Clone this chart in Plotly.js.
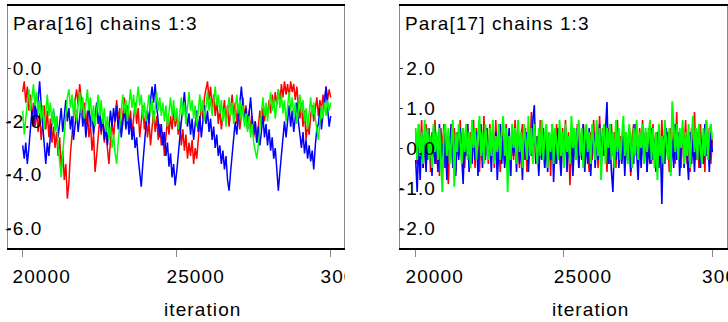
<!DOCTYPE html>
<html><head><meta charset="utf-8">
<script src="https://cdn.plot.ly/plotly-3.0.1.min.js"></script>
<style>html,body{margin:0;padding:0;background:#fff}#chart{width:728px;height:322px}svg text{letter-spacing:1.1px}</style>
</head><body><div id="chart"></div>
<script>
// ---------- data (one value every 50 iterations) ----------
const iterStart = 20000, iterEnd = 30000;

const para16Red = [
  -0.9,-0.5,-1.3,-0.7,-1.6,-1.0,-1.9,-1.3,-2.2,-1.6,  -2.4,-1.7,-2.7,-2.0,-1.4,-2.3,-1.6,-2.6,-1.9,-2.8,
  -2.2,-3.0,-2.4,-3.3,-2.6,-3.8,-3.1,-4.2,-3.6,-4.9,  -4.3,-3.2,-2.5,-1.8,-1.2,-0.8,-1.4,-0.6,-1.1,-1.7,
  -1.3,-2.2,-1.6,-2.6,-2.1,-3.1,-2.5,-3.9,-3.3,-2.6,  -1.9,-2.5,-1.8,-2.8,-2.2,-3.0,-3.6,-2.7,-2.0,-2.6,
  -1.7,-1.2,-2.0,-1.5,-2.4,-1.8,-1.1,-1.9,-1.4,-2.2,  -1.6,-2.5,-1.9,-1.3,-2.1,-1.5,-2.6,-2.0,-1.4,-2.3,
  -1.7,-2.6,-2.0,-2.9,-2.3,-1.6,-2.4,-1.8,-2.7,-2.1,  -2.9,-2.4,-3.3,-2.6,-1.9,-2.5,-1.8,-2.3,-1.6,-2.2,
  -1.7,-2.5,-2.0,-2.9,-2.3,-3.1,-2.5,-3.4,-2.8,-3.3,  -2.7,-3.6,-3.0,-3.4,-2.5,-2.0,-1.4,-1.9,-1.1,-0.8,
  -0.5,-1.2,-0.7,-1.5,-1.0,-1.8,-1.2,-2.1,-1.5,-2.3,  -1.7,-1.2,-2.0,-1.4,-2.2,-1.6,-1.0,-1.8,-1.3,-2.1,
  -1.5,-2.3,-1.7,-1.1,-1.9,-1.4,-2.2,-1.6,-2.4,-1.8,  -2.6,-2.0,-2.8,-2.2,-1.6,-2.1,-1.5,-2.0,-1.4,-1.8,
  -1.2,-1.7,-1.0,-1.5,-0.9,-1.4,-0.8,-1.3,-0.6,-1.1,  -0.5,-1.0,-0.6,-1.1,-0.5,-0.9,-0.6,-1.2,-0.7,-1.4,
  -1.9,-1.3,-2.2,-1.6,-2.7,-2.1,-2.5,-1.8,-1.4,-2.0,  -1.5,-1.1,-1.8,-1.2,-1.6,-1.0,-1.4,-0.7,-1.2,-0.8,
  -1.1];
const para16Blue = [
  -2.9,-3.4,-2.8,-3.6,-3.0,-2.3,-1.6,-2.2,-1.4,-1.9,  -1.0,-0.5,-1.4,-2.2,-3.0,-3.6,-2.8,-3.3,-2.5,-2.0,
  -1.6,-2.3,-1.8,-2.6,-2.0,-1.5,-2.4,-1.7,-1.2,-2.0,  -1.5,-2.3,-1.8,-2.7,-2.1,-1.6,-2.4,-1.9,-1.3,-2.2,
  -1.7,-2.6,-2.0,-1.4,-2.2,-1.6,-2.5,-1.9,-1.3,-2.1,  -1.6,-2.4,-1.8,-2.7,-2.1,-2.9,-2.3,-1.6,-2.2,-1.5,
  -2.0,-1.4,-2.3,-1.8,-2.6,-2.0,-1.5,-2.3,-1.7,-2.5,  -1.9,-2.7,-2.2,-3.0,-2.6,-3.4,-3.9,-4.45,-3.6,-2.8,
  -2.2,-1.6,-2.1,-1.2,-0.7,-1.3,-0.6,-1.4,-2.0,-2.6,  -2.1,-2.9,-2.4,-3.3,-2.8,-3.7,-3.2,-4.1,-3.6,-4.4,
  -3.9,-3.2,-2.6,-2.0,-1.5,-0.9,-1.6,-2.2,-1.7,-2.5,  -1.9,-2.7,-2.1,-1.6,-2.4,-1.8,-2.6,-2.0,-1.4,-2.1,
  -1.6,-2.4,-1.9,-2.7,-2.2,-3.0,-2.5,-3.3,-2.9,-3.6,  -3.1,-3.8,-3.3,-4.2,-4.6,-3.9,-3.2,-2.6,-2.0,-2.5,
  -1.9,-1.3,-0.7,-1.4,-2.0,-1.5,-2.3,-1.7,-1.1,-1.9,  -2.5,-2.0,-2.8,-2.2,-2.9,-2.4,-1.8,-2.6,-2.1,-2.9,
  -2.3,-3.1,-2.6,-3.4,-3.0,-3.8,-4.6,-3.9,-3.2,-2.6,  -2.0,-2.6,-1.9,-1.4,-2.2,-1.6,-2.4,-1.8,-1.3,-2.0,
  -2.5,-3.0,-2.4,-3.2,-2.7,-3.4,-2.9,-3.5,-3.1,-3.8,  -2.9,-2.3,-2.1,-1.5,-2.3,-1.7,-1.2,-0.7,-1.5,-2.2,
  -1.8];
const para16Green = [
  -1.6,-2.5,-1.9,-1.2,-0.8,-1.6,-1.1,-0.6,-1.4,-0.9,  -1.7,-1.2,-2.0,-1.4,-2.3,-1.7,-1.0,-1.8,-1.3,-2.1,
  -1.5,-2.4,-1.8,-2.9,-3.5,-4.1,-3.2,-2.4,-1.6,-1.1,  -0.8,-1.5,-1.0,-1.8,-1.2,-2.0,-1.4,-0.9,-1.7,-1.1,
  -1.9,-1.3,-0.8,-1.6,-1.1,-2.0,-1.4,-2.2,-1.6,-1.0,  -1.8,-1.2,-2.1,-1.5,-2.4,-1.8,-2.7,-2.2,-3.0,-2.5,
  -3.2,-3.6,-2.8,-2.1,-1.5,-1.0,-1.7,-1.2,-2.0,-1.4,  -0.8,-1.5,-1.0,-1.8,-1.3,-0.7,-1.4,-1.0,-1.9,-1.3,
  -2.0,-1.5,-1.0,-1.7,-1.2,-2.1,-1.5,-0.9,-1.6,-1.1,  -1.8,-1.3,-2.0,-1.4,-2.2,-1.6,-1.1,-1.8,-1.2,-2.0,
  -1.5,-2.3,-1.7,-1.1,-1.8,-1.3,-2.1,-1.5,-0.9,-1.6,  -1.2,-1.9,-1.4,-2.2,-1.6,-1.0,-1.7,-1.2,-2.0,-1.5,
  -0.9,-1.6,-1.1,-1.8,-1.3,-0.7,-1.4,-1.0,-1.7,-1.2,  -2.0,-1.5,-2.2,-1.6,-1.1,-1.8,-1.3,-2.1,-1.5,-1.0,
  -1.7,-1.2,-2.0,-1.4,-2.2,-1.7,-2.4,-1.8,-2.6,-2.1,  -2.8,-3.1,-3.4,-2.9,-2.3,-1.7,-1.1,-1.8,-1.3,-2.0,
  -1.4,-0.9,-1.6,-1.1,-1.9,-1.3,-0.8,-1.5,-1.0,-1.7,  -1.2,-2.0,-1.4,-0.9,-1.6,-1.1,-1.8,-1.3,-2.1,-1.5,
  -1.0,-1.7,-1.2,-2.0,-1.5,-2.3,-1.7,-1.1,-1.8,-1.3,  -1.9,-2.4,-2.7,-2.0,-1.4,-1.9,-1.3,-1.8,-1.2,-1.6,
  -1.3];

const para17Red = [
  0.4,-0.4,0.6,-0.2,0.7,-0.5,0.3,0.6,-0.3,0.5,  -0.6,0.4,-0.2,0.7,-0.4,0.3,-0.7,0.5,-0.1,0.6,
  -0.5,0.3,-0.9,0.2,0.6,-0.4,0.5,-0.6,0.4,-0.2,  0.7,-0.3,0.5,-0.5,0.3,0.6,-0.4,0.4,-0.2,0.7,
  -0.5,0.5,0.0,-0.6,0.4,-0.3,0.8,-0.2,0.5,-0.4,  0.6,-0.1,0.4,-0.5,0.7,-0.3,0.3,-0.6,0.5,0.0,
  -0.4,0.6,-0.2,0.4,-0.7,0.5,-0.3,0.7,-0.1,0.4,  -0.5,0.3,0.6,-0.3,0.5,-0.6,0.4,-0.2,0.9,-0.1,
  0.5,-0.4,0.3,-0.6,0.7,-0.2,0.4,-0.5,0.6,-0.3,  0.4,-0.7,0.5,0.0,-0.4,0.6,-0.3,0.3,-0.6,0.5,
  -0.2,0.7,-0.4,0.4,-0.93,0.2,-0.6,0.5,-0.3,0.6,  -0.5,0.3,-0.2,0.6,-0.4,0.5,0.0,-0.6,0.4,-0.3,
  0.7,-0.2,0.4,-0.5,0.8,-0.3,0.5,-0.1,0.3,-0.6,  0.5,-0.4,0.6,-0.2,0.4,-0.5,0.7,-0.3,0.3,-0.1,
  0.6,-0.5,0.4,-0.3,0.5,-0.7,0.3,0.6,-0.2,0.4,  -0.4,0.5,-0.1,0.7,-0.3,0.4,-0.6,0.5,0.0,-0.4,
  0.6,-0.2,0.4,-0.5,0.3,-0.3,0.7,-0.4,0.5,-0.1,  0.4,-0.6,0.5,-0.2,0.6,-0.4,0.9,-0.3,0.3,-0.5,
  0.5,-0.2,0.7,-0.4,0.3,-0.6,0.5,0.0,0.9,-0.3,  0.4,-0.5,0.6,-0.2,0.3,-0.6,0.7,-0.3,0.5,-0.4,
  0.2];
const para17Blue = [
  -0.3,-1.1,0.2,-0.8,0.4,-0.5,0.3,-0.6,0.5,-0.2,  0.3,-0.7,0.5,-0.4,0.2,-0.6,0.6,-0.3,0.1,-0.5,
  0.4,-0.8,0.3,-0.2,0.6,-0.5,0.2,-0.7,0.4,-0.3,  0.5,-0.4,-0.9,0.3,-0.2,0.6,-0.6,0.2,-0.4,0.5,
  -0.3,0.4,-0.7,0.1,0.6,-0.5,0.3,-0.3,0.5,-0.2,  0.2,-0.6,0.5,-0.3,0.4,-0.8,0.1,0.6,-0.4,0.3,
  -0.5,0.2,-0.3,0.5,-0.7,0.4,-0.2,0.3,-0.6,0.6,  -0.4,0.1,-0.8,0.5,-0.3,0.4,-0.6,0.2,-0.2,0.7,
  1.07,-0.4,0.3,-0.7,0.2,-0.3,0.5,-0.5,0.1,-0.6,  0.4,-0.3,0.6,-0.85,0.2,-0.4,0.5,-0.2,-0.7,0.3,
  -0.3,0.5,-0.6,0.2,-0.4,0.4,-0.7,0.1,-0.2,0.5,  -0.5,0.3,-0.3,0.6,-0.6,0.2,-0.4,0.5,-0.7,0.1,
  0.4,-0.5,0.2,-0.3,0.6,-0.6,0.3,-0.2,0.5,1.15,  -0.4,0.3,-0.6,-1.1,0.2,-0.3,0.5,-0.5,0.1,-0.4,
  0.4,-0.7,0.2,-0.3,0.5,-0.6,0.1,-0.4,0.6,-0.2,  -0.8,0.3,-0.5,0.2,-0.3,0.4,-0.6,0.1,-0.4,0.5,
  -0.3,0.2,-0.6,0.4,-0.5,0.1,-1.4,0.3,-0.4,0.5,  -0.2,0.3,-0.6,0.2,-0.5,0.6,-0.3,0.4,-0.7,0.1,
  0.5,-0.5,0.3,-0.2,-0.8,0.4,-0.4,0.2,-0.6,0.3,  -0.3,0.5,-0.5,0.2,-0.4,0.6,-0.2,0.3,-0.6,0.4,
  -0.1];
const para17Green = [
  0.5,-0.3,0.6,-0.2,0.4,-0.4,0.7,0.0,0.5,-0.3,  0.3,-0.5,0.6,-0.1,0.4,-0.3,0.5,-0.2,-1.1,0.4,
  0.6,-0.2,0.5,-0.4,0.3,0.7,-0.97,0.4,-0.1,0.6,  0.2,-0.4,0.5,-0.1,0.6,-0.3,0.4,-0.5,0.7,0.0,
  0.5,-0.3,0.3,0.8,-0.2,0.4,-0.4,0.6,0.1,-0.3,  0.5,-0.2,0.7,-0.4,0.3,-0.1,0.6,-0.3,0.4,0.8,
  -0.2,0.5,-1.1,0.3,-0.3,0.6,0.0,0.5,-0.4,0.7,  -0.1,0.4,-0.5,0.6,0.2,-0.3,0.8,-0.2,0.5,-0.4,
  0.6,0.0,-0.4,0.5,-0.2,0.7,-0.3,0.3,0.6,-0.5,  0.4,-0.1,0.6,-0.4,0.5,0.1,-0.3,0.7,-0.2,0.4,
  -0.5,0.6,-0.1,0.3,-0.4,0.8,0.0,0.5,-0.3,0.4,  0.7,-0.2,0.5,-0.5,0.3,0.6,-0.1,0.4,-0.4,0.6,
  0.1,-0.3,0.7,-0.2,0.5,-0.8,0.3,0.6,-0.4,0.5,  0.0,0.6,-0.3,0.4,-0.5,0.7,-0.1,0.5,-0.3,0.3,
  0.8,-0.2,0.4,-0.4,0.6,0.1,-0.5,0.5,-0.2,0.7,  -0.3,0.4,0.0,0.6,-0.4,0.5,-0.1,0.3,0.7,-0.3,
  0.5,-0.5,0.4,-0.8,0.6,-0.2,0.3,-0.4,0.7,0.1,  -0.3,0.5,-0.7,1.17,0.4,-0.1,0.6,-0.3,0.5,0.0,
  0.7,-0.4,0.4,-0.2,0.6,-0.5,0.3,0.8,-0.1,0.5,  -0.3,0.6,0.0,-0.4,0.5,-0.2,0.7,-0.3,0.4,0.6,
  0.2];

const chainColors = ["#ff0000", "#0000ff", "#00ff00"];
const xTickVals = [20000, 25000, 30000];
const xTickText = ["20000", "25000", "30000"];
const leftYTickVals = [0, -2, -4, -6];
const leftYTickText = ["0.0", "-2.0", "-4.0", "-6.0"];
const rightYTickVals = [2, 1, 0, -1, -2];
const rightYTickText = ["2.0", "1.0", "0.0", "-1.0", "-2.0"];
const panelTitles = ["Para[16] chains 1:3", "Para[17] chains 1:3"];
const xTitle = "iteration";

// ---------- build ----------
const W = 728, H = 322;
const fx = p => p / W;
const fy = p => (H - p) / H;
const FONT = "Liberation Sans, Arial, Helvetica, sans-serif";
const FS = 19;

function iters(arr) {
  const n = arr.length;
  return arr.map((_, i) => iterStart + i * (iterEnd - iterStart) / (n - 1));
}
function trace(vals, color, xa, ya, w) {
  return { type: "scatter", mode: "lines", x: iters(vals), y: vals, xaxis: xa, yaxis: ya,
    line: { color: color, width: w }, hoverinfo: "skip", showlegend: false };
}
function frameTrace(xa, ya) {
  return { type: "scatter", mode: "lines", x: [], y: [], xaxis: xa, yaxis: ya, hoverinfo: "skip", showlegend: false };
}

const traces = [
  trace(para16Red, chainColors[0], "x", "y", 1.5),
  trace(para16Blue, chainColors[1], "x", "y", 1.5),
  trace(para16Green, chainColors[2], "x", "y", 1.5),
  trace(para17Red, chainColors[0], "x2", "y2", 1.6),
  trace(para17Blue, chainColors[1], "x2", "y2", 1.6),
  trace(para17Green, chainColors[2], "x2", "y2", 1.9),
  frameTrace("x", "y3"),
  frameTrace("x2", "y4")
];

const yDom = [fy(248), fy(6)];
const tickFont = { family: FONT, size: FS, color: "#000" };

function xAxis(dom, range, anchor) {
  return { domain: dom, range: range, anchor: anchor, showline: true, linecolor: "#000", linewidth: 2,
    mirror: true, ticks: "outside", ticklen: 7, tickcolor: "#888", tickwidth: 1,
    tickmode: "array", tickvals: xTickVals, ticktext: xTickText, tickfont: tickFont,
    ticklabelshift: 19, ticklabelstandoff: 3, ticklabeloverflow: "allow",
    showgrid: false, zeroline: false, automargin: false, fixedrange: true };
}
function yLabelAxis(range, pos, vals, text) {
  return { domain: yDom, range: range, anchor: "free", position: pos, showline: false, ticks: "",
    tickmode: "array", tickvals: vals, ticktext: text, tickfont: tickFont,
    showgrid: false, zeroline: false, automargin: false, fixedrange: true };
}
function yFrameAxis(range, over, anchor, vals) {
  return { domain: yDom, range: range, overlaying: over, anchor: anchor, side: "left",
    showline: true, linecolor: "#888", linewidth: 1, mirror: true,
    ticks: "inside", ticklen: 3, tickcolor: "#333", tickwidth: 1,
    tickmode: "array", tickvals: vals, showticklabels: false,
    showgrid: false, zeroline: false, automargin: false, fixedrange: true };
}

const leftYRange = [-6.75, 2.325];
const rightYRange = [-2.5, 3.55];

const layout = {
  width: W, height: H, margin: { l: 0, r: 0, t: 0, b: 0 },
  paper_bgcolor: "#fff", plot_bgcolor: "rgba(0,0,0,0)", showlegend: false,
  font: { family: FONT, size: FS, color: "#000" },
  xaxis: xAxis([fx(7.5), fx(344)], [19506.5, 30432], "y"),
  yaxis: yLabelAxis(leftYRange, fx(7.5 + 35), leftYTickVals, leftYTickText),
  yaxis3: yFrameAxis(leftYRange, "y", "x", leftYTickVals),
  xaxis2: xAxis([fx(400), fx(727)], [19470.7, 30496], "y2"),
  yaxis2: yLabelAxis(rightYRange, fx(400 + 36), rightYTickVals, rightYTickText),
  yaxis4: yFrameAxis(rightYRange, "y2", "x2", rightYTickVals),
  shapes: [
    { type: "rect", layer: "above", xref: "paper", yref: "paper", x0: fx(345), x1: fx(399), y0: 0, y1: fy(250),
      fillcolor: "#fff", line: { width: 0 } }
  ],
  annotations: [
    { text: panelTitles[0], xref: "x domain", yref: "y domain", x: 0, y: 1, xanchor: "left", yanchor: "middle",
      xshift: 3, yshift: -17, showarrow: false, font: { family: FONT, size: FS, color: "#000" } },
    { text: panelTitles[1], xref: "x2 domain", yref: "y2 domain", x: 0, y: 1, xanchor: "left", yanchor: "middle",
      xshift: 3, yshift: -17, showarrow: false, font: { family: FONT, size: FS, color: "#000" } },
    { text: xTitle, xref: "x domain", yref: "y domain", x: 0.5, y: 0, xanchor: "center", yanchor: "middle",
      xshift: 27, yshift: -61, showarrow: false, font: { family: FONT, size: FS, color: "#000" } },
    { text: xTitle, xref: "x2 domain", yref: "y2 domain", x: 0.5, y: 0, xanchor: "center", yanchor: "middle",
      xshift: 27, yshift: -61, showarrow: false, font: { family: FONT, size: FS, color: "#000" } }
  ]
};

Plotly.newPlot("chart", traces, layout, { staticPlot: true, displayModeBar: false });
</script>
</body></html>
